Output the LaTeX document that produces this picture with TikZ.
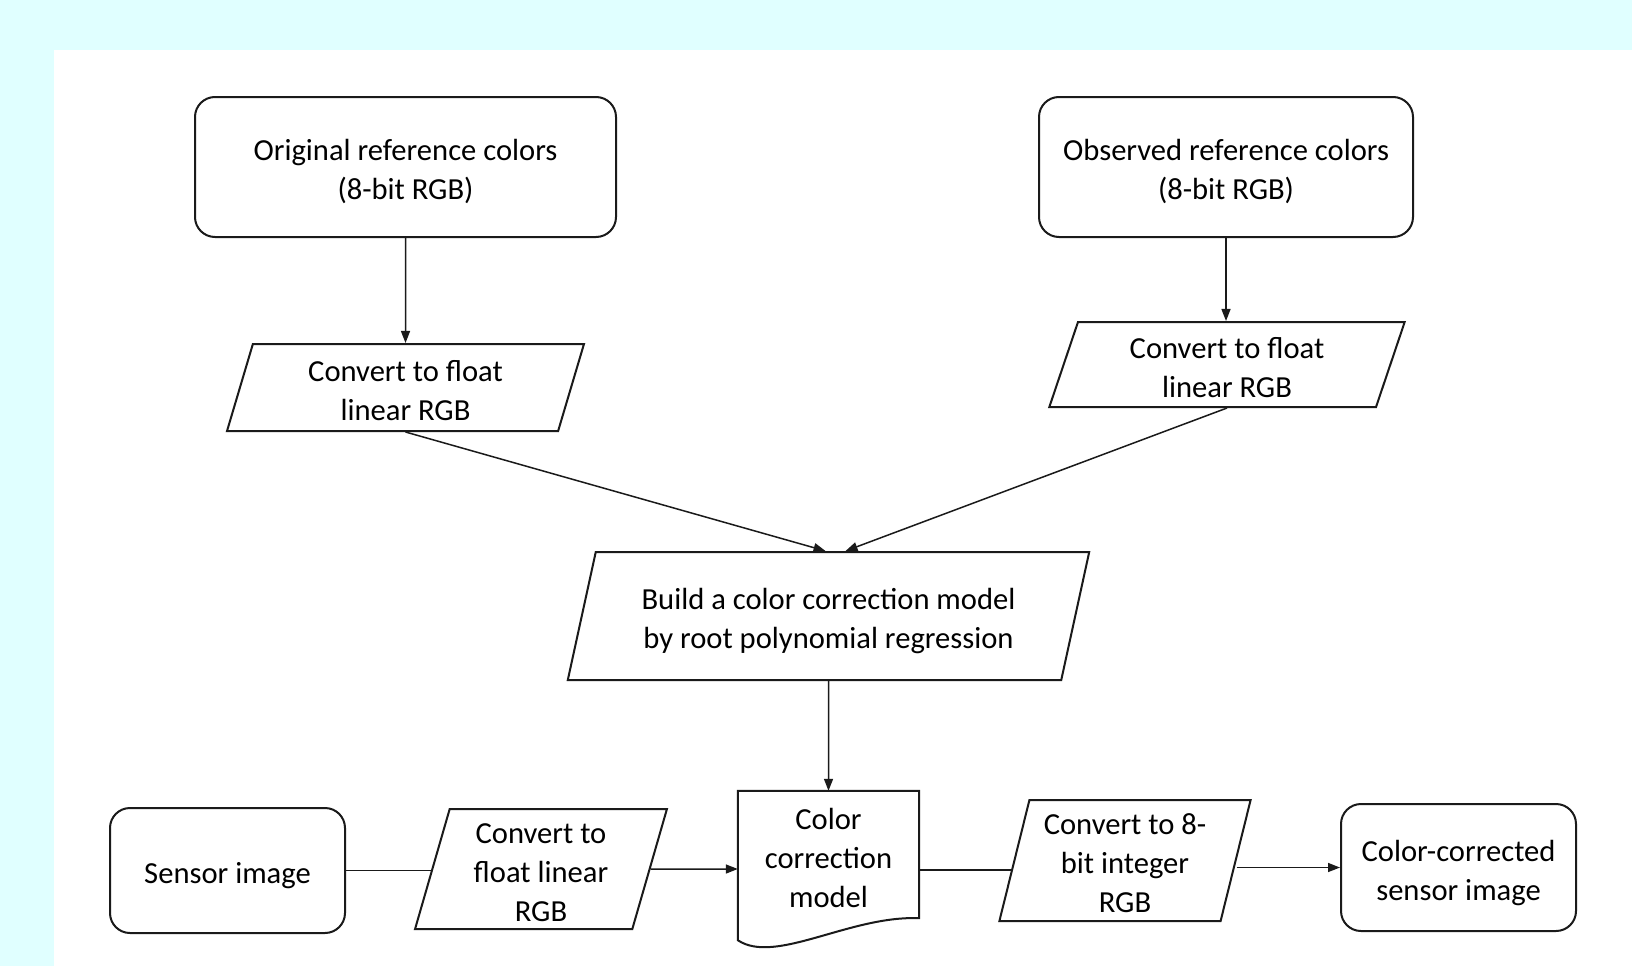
\documentclass[tikz,border=0pt]{standalone}
\usepackage{fontspec}
\setmainfont{Carlito}
\usetikzlibrary{shapes.geometric,arrows.meta,calc}
\definecolor{bgcyan}{HTML}{E0FFFF}
\definecolor{ink}{HTML}{1A1A1A}
\newcommand\topstr{\vrule width0pt height34pt depth0pt\relax}
\newcommand\topstrdoc{\vrule width0pt height29pt depth0pt\relax}
\newcommand\botstr{\vrule width0pt height0pt depth8pt\relax}
\begin{document}
\begin{tikzpicture}[x=1pt,y=-1pt,
  txt/.style={align=center,inner sep=0pt,font=\fontsize{30.6}{39}\selectfont},
  box/.style={txt,draw=ink,line width=2pt,rounded corners=20pt},
  para/.style={txt,draw=ink,line width=2pt,trapezium,trapezium left angle=#1,trapezium right angle=180-#1,trapezium stretches=true},
  para/.default=79,
  docbox/.style={txt,rectangle},
  conn/.style={draw=ink,line width=1.5pt},
  arr/.style={conn,-{Triangle[length=12pt,width=9pt]}}]
\useasboundingbox (0,0) rectangle (1632,966);
\fill[bgcyan] (0,0) rectangle (1632,966);
\fill[white] (54,50) rectangle (1632,966);

\node[box,minimum width=421pt,minimum height=140pt] (orig) at (405.5,167) {\topstr Original reference colors\\(8-bit RGB)\botstr};
\node[box,minimum width=374pt,minimum height=140pt] (obs) at (1226,167) {\topstr Observed reference colors\\(8-bit RGB)\botstr};
\node[para=78.5,minimum width=357pt,minimum height=87pt] (p1) at (405.5,387.5) {\topstr Convert to float\\linear RGB\botstr};
\node[para=77,minimum width=356pt,minimum height=85pt] (p2) at (1227,364.5) {\topstr Convert to float\\linear RGB\botstr};
\node[para=74.5,minimum width=523pt,minimum height=128pt] (p0) at (828.5,616) {\topstr Build a color correction model\\by root polynomial regression\botstr};
\node[box,minimum width=235pt,minimum height=125pt] (sensor) at (227.5,870.5) {\topstr Sensor image\botstr};
\node[para=78,minimum width=252pt,minimum height=120pt] (p3) at (541,869) {\topstr Convert to\\float linear\\RGB\botstr};
\node[docbox,minimum width=181pt,minimum height=134pt] (doc) at (828.5,858) {\topstrdoc Color\\correction\\model\botstr};
\node[para=78,minimum width=252pt,minimum height=121pt] (p4) at (1125,860.5) {\topstr Convert to 8-\\bit integer\\RGB\botstr};
\node[box,minimum width=235pt,minimum height=127pt] (out) at (1458.5,867.5) {\topstr Color-corrected\\sensor image\botstr};

\draw[ink,line width=2pt] ($(doc.south west)+(0,15)$) -- (doc.north west) -- (doc.north east) -- ($(doc.south east)+(0,-7)$)
  .. controls ($(doc.south)+(21.5,-10)$) and ($(doc.south)+(-53.5,40)$) .. ($(doc.south west)+(0,15)$) -- cycle;

\draw[arr] (orig) -- (p1);
\draw[arr] (obs) -- (obs |- p2.north);
\draw[arr] (p1.south) -- ([xshift=-3pt]p0.north);
\draw[arr] (p2.south) -- ([xshift=17pt]p0.north);
\draw[arr] (p0) -- (doc);
\draw[conn] (sensor) -- (sensor -| p3.west);
\draw[arr] (p3) -- (p3 -| doc.west);
\draw[conn] ([yshift=-12pt]doc.east) -- ([yshift=-12pt]doc.east -| p4.west);
\draw[arr] (out -| p4.east) -- (out.west);
\end{tikzpicture}
\end{document}
